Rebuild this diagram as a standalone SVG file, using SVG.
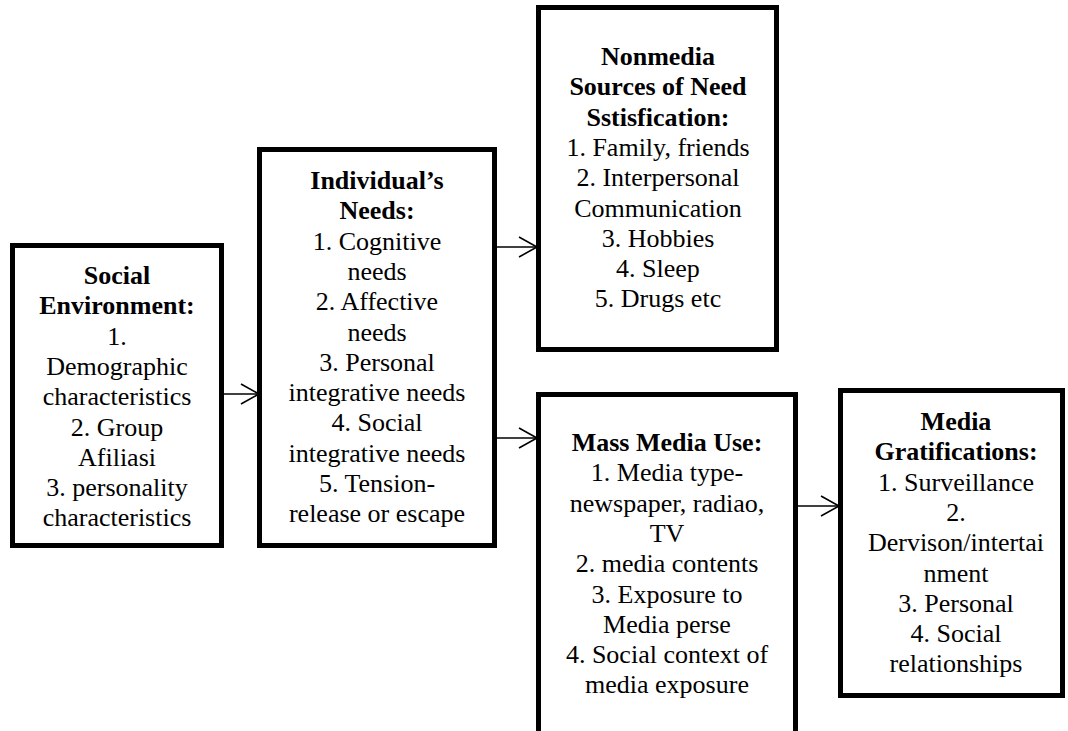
<svg xmlns="http://www.w3.org/2000/svg" width="1068" height="731" viewBox="0 0 1068 731">
<style>
.box{fill:#fff;stroke:#000;stroke-width:5}
.t{font-family:"Liberation Serif","Times New Roman",serif;font-size:26px;fill:#000;text-anchor:middle}
.b{font-weight:bold}
.c{stroke:#000;stroke-width:1.6;fill:none}
</style>
<defs>
<marker id="ah" markerUnits="userSpaceOnUse" markerWidth="22" markerHeight="24" refX="19" refY="11" orient="auto">
<path d="M1,1 L19,11 L1,21" fill="none" stroke="#000" stroke-width="1.6"/>
</marker>
</defs>
<g id="social-environment">
<rect class="box" x="12.5" y="245.5" width="209" height="300"/>
<text class="t"><tspan class="b" x="117" y="284">Social</tspan><tspan class="b" x="117" y="314.3">Environment:</tspan><tspan x="117" y="344.6">1.</tspan><tspan x="117" y="374.9">Demographic</tspan><tspan x="117" y="405.2">characteristics</tspan><tspan x="117" y="435.5">2. Group</tspan><tspan x="117" y="465.8">Afiliasi</tspan><tspan x="117" y="496.1">3. personality</tspan><tspan x="117" y="526.4">characteristics</tspan></text>
</g>
<g id="individuals-needs">
<rect class="box" x="259.5" y="149.5" width="235" height="396"/>
<text class="t"><tspan class="b" x="377" y="189">Individual’s</tspan><tspan class="b" x="377" y="219.3">Needs:</tspan><tspan x="377" y="249.6">1. Cognitive</tspan><tspan x="377" y="279.9">needs</tspan><tspan x="377" y="310.2">2. Affective</tspan><tspan x="377" y="340.5">needs</tspan><tspan x="377" y="370.8">3. Personal</tspan><tspan x="377" y="401.1">integrative needs</tspan><tspan x="377" y="431.4">4. Social</tspan><tspan x="377" y="461.7">integrative needs</tspan><tspan x="377" y="492">5. Tension-</tspan><tspan x="377" y="522.3">release or escape</tspan></text>
</g>
<g id="nonmedia-sources">
<rect class="box" x="538.5" y="7.5" width="238" height="342"/>
<text class="t"><tspan class="b" x="658" y="65">Nonmedia</tspan><tspan class="b" x="658" y="95.3">Sources of Need</tspan><tspan class="b" x="658" y="125.6">Sstisfication:</tspan><tspan x="658" y="155.9">1. Family, friends</tspan><tspan x="658" y="186.2">2. Interpersonal</tspan><tspan x="658" y="216.5">Communication</tspan><tspan x="658" y="246.8">3. Hobbies</tspan><tspan x="658" y="277.1">4. Sleep</tspan><tspan x="658" y="307.4">5. Drugs etc</tspan></text>
</g>
<g id="mass-media-use">
<rect class="box" x="538.5" y="394.5" width="257" height="345"/>
<text class="t"><tspan class="b" x="667" y="451">Mass Media Use:</tspan><tspan x="667" y="481.3">1. Media type-</tspan><tspan x="667" y="511.6">newspaper, radiao,</tspan><tspan x="667" y="541.9">TV</tspan><tspan x="667" y="572.2">2. media contents</tspan><tspan x="667" y="602.5">3. Exposure to</tspan><tspan x="667" y="632.8">Media perse</tspan><tspan x="667" y="663.1">4. Social context of</tspan><tspan x="667" y="693.4">media exposure</tspan></text>
</g>
<g id="media-gratifications">
<rect class="box" x="840.5" y="390.5" width="222" height="305"/>
<text class="t"><tspan class="b" x="956" y="430">Media</tspan><tspan class="b" x="956" y="460.3">Gratifications:</tspan><tspan x="956" y="490.6">1. Surveillance</tspan><tspan x="956" y="520.9">2.</tspan><tspan x="956" y="551.2">Dervison/intertai</tspan><tspan x="956" y="581.5">nment</tspan><tspan x="956" y="611.8">3. Personal</tspan><tspan x="956" y="642.1">4. Social</tspan><tspan x="956" y="672.4">relationships</tspan></text>
</g>
<g id="connectors">
<line class="c" x1="224" y1="394" x2="259" y2="394" marker-end="url(#ah)"/>
<line class="c" x1="497" y1="247" x2="537" y2="247" marker-end="url(#ah)"/>
<line class="c" x1="497" y1="438" x2="537" y2="438" marker-end="url(#ah)"/>
<line class="c" x1="798" y1="506" x2="839" y2="506" marker-end="url(#ah)"/>
</g>
</svg>
